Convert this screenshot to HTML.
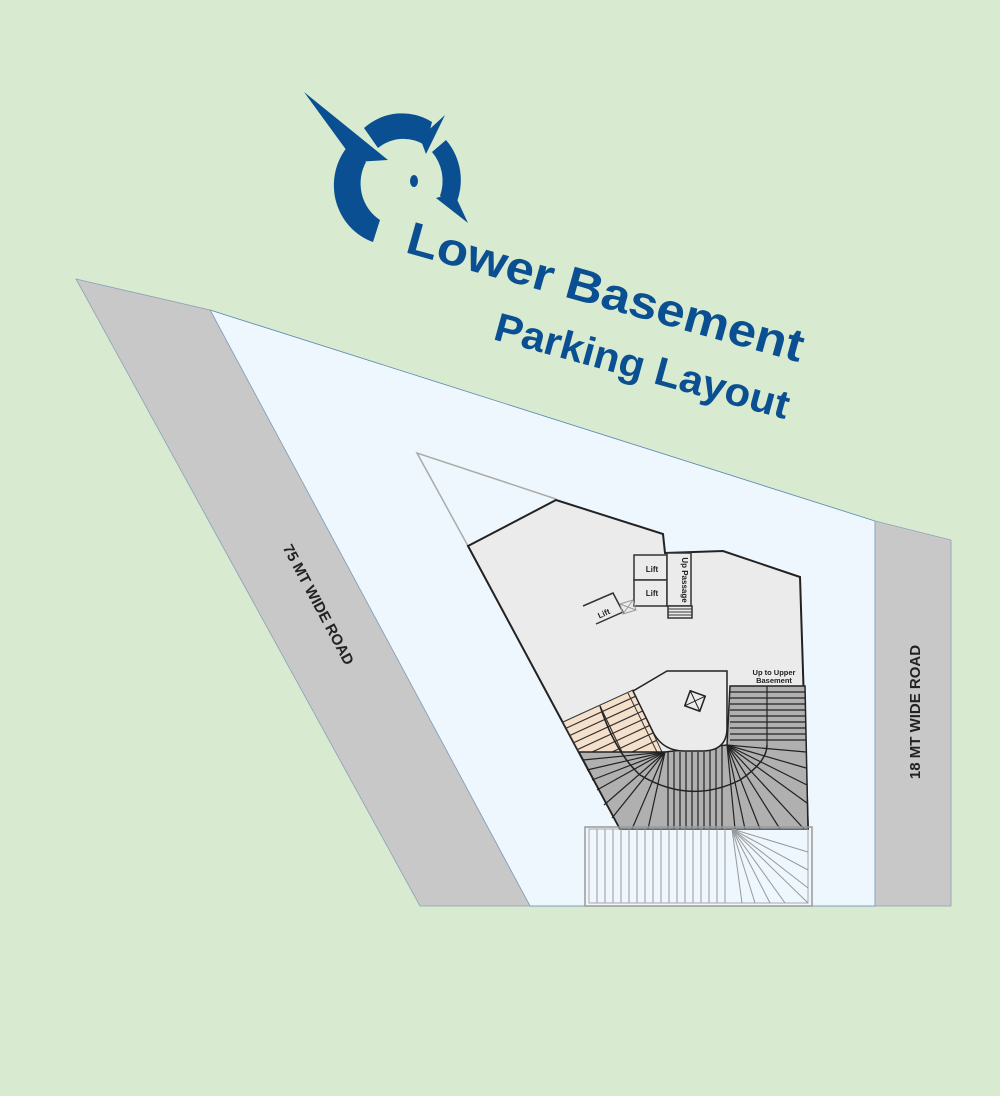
<!DOCTYPE html>
<html><head><meta charset="utf-8"><style>html,body{margin:0;padding:0;background:#d8ead0}svg{display:block}</style></head>
<body>
<svg width="1000" height="1096" viewBox="0 0 1000 1096" xmlns="http://www.w3.org/2000/svg" font-family="Liberation Sans, sans-serif">
<defs><clipPath id="bc"><polygon points="563,722 633,690 662,752 579,752"/></clipPath></defs>
<rect width="1000" height="1096" fill="#d8ead0"/>
<polygon points="210,310 875,521 875,906 530,906" fill="#eef7fd" stroke="#5a86b0" stroke-width="0.8"/>
<polygon points="76,279 210,310 530,906 420,906" fill="#c8c8c8" stroke="#8aa0b8" stroke-width="0.8"/>
<polygon points="875,521 951,540 951,906 875,906" fill="#c8c8c8" stroke="#8aa0b8" stroke-width="0.8"/>
<polyline points="556,499 417,453 468,546" fill="none" stroke="#aaa" stroke-width="1.5"/>
<polygon points="468,546 556,500 663,534 665,553 723,551 800,577 808,829 620,829" fill="#ebebeb" stroke="#222" stroke-width="2"/>
<polygon points="563,722 633,690 662,752 579,752" fill="#f5e1cb" stroke="#333" stroke-width="1"/>
<g stroke="#333" stroke-width="1.2" clip-path="url(#bc)">
<line x1="560" y1="731" x2="660" y2="685"/><line x1="560" y1="740" x2="660" y2="694"/><line x1="560" y1="749" x2="660" y2="703"/><line x1="570" y1="753" x2="670" y2="707"/><line x1="590" y1="753" x2="670" y2="716"/><line x1="610" y1="753" x2="670" y2="725"/><line x1="630" y1="753" x2="670" y2="734"/>
<line x1="600" y1="706" x2="622" y2="752"/>
</g>
<line x1="628" y1="693" x2="657" y2="752" stroke="#333" stroke-width="1"/>
<polygon points="579,752 665,752 727,745 730,686 805,686 808,829 620,829" fill="#b0b0b0" stroke="#222" stroke-width="1.5"/>
<g stroke="#222" stroke-width="1.2">
<line x1="730" y1="692" x2="805" y2="692"/><line x1="730" y1="698" x2="805" y2="698"/><line x1="730" y1="704" x2="805" y2="704"/><line x1="730" y1="710" x2="805" y2="710"/><line x1="730" y1="716" x2="806" y2="716"/><line x1="730" y1="722" x2="806" y2="722"/><line x1="730" y1="728" x2="806" y2="728"/><line x1="730" y1="734" x2="806" y2="734"/><line x1="730" y1="740" x2="806" y2="740"/>
<line x1="668" y1="752" x2="668" y2="829"/><line x1="674" y1="752" x2="674" y2="829"/><line x1="680" y1="752" x2="680" y2="829"/><line x1="686" y1="752" x2="686" y2="829"/><line x1="692" y1="752" x2="692" y2="829"/><line x1="698" y1="752" x2="698" y2="829"/><line x1="704" y1="752" x2="704" y2="829"/><line x1="710" y1="750" x2="710" y2="829"/><line x1="716" y1="748" x2="716" y2="829"/><line x1="722" y1="746" x2="722" y2="829"/>
<line x1="665" y1="752" x2="583" y2="760"/><line x1="665" y1="752" x2="587" y2="770"/><line x1="665" y1="752" x2="592" y2="780"/><line x1="665" y1="752" x2="597" y2="790"/><line x1="665" y1="752" x2="604" y2="805"/><line x1="665" y1="752" x2="612" y2="818"/><line x1="665" y1="752" x2="632" y2="829"/><line x1="665" y1="752" x2="648" y2="829"/>
<line x1="727" y1="745" x2="806" y2="752"/><line x1="727" y1="745" x2="806" y2="768"/><line x1="727" y1="745" x2="807" y2="785"/><line x1="727" y1="745" x2="807" y2="803"/><line x1="727" y1="745" x2="804" y2="829"/><line x1="727" y1="745" x2="780" y2="829"/><line x1="727" y1="745" x2="760" y2="829"/><line x1="727" y1="745" x2="745" y2="829"/><line x1="727" y1="745" x2="735" y2="829"/>
<line x1="767" y1="686" x2="767" y2="745"/>
</g>
<path d="M600,706 Q615,752 640,775 Q690,805 740,780 Q767,762 767,745" fill="none" stroke="#222" stroke-width="1.5"/>
<path d="M633,691 L667,671 L727,671 L727,728 Q727,751 702,751 L684,751 Q664,751 654,734 Z" fill="#ebebeb" stroke="#222" stroke-width="1.5"/>
<g transform="translate(695,701) rotate(20)"><rect x="-8" y="-8" width="16" height="16" fill="none" stroke="#222" stroke-width="1.5"/><line x1="-8" y1="-8" x2="8" y2="8" stroke="#222"/><line x1="8" y1="-8" x2="-8" y2="8" stroke="#222"/></g>
<text x="774" y="675" font-size="7.5" font-weight="bold" text-anchor="middle" fill="#222">Up to Upper</text>
<text x="774" y="683" font-size="7.5" font-weight="bold" text-anchor="middle" fill="#222">Basement</text>
<g stroke="#333" stroke-width="1.5" fill="#ebebeb">
<rect x="634" y="555" width="33" height="25"/><rect x="634" y="580" width="33" height="26"/>
<rect x="667" y="553" width="24" height="53"/>
<rect x="668" y="606" width="24" height="12"/>
</g>
<g stroke="#333" stroke-width="1"><line x1="668" y1="609" x2="692" y2="609"/><line x1="668" y1="612" x2="692" y2="612"/><line x1="668" y1="615" x2="692" y2="615"/></g>
<text x="652" y="572" font-size="8" font-weight="bold" text-anchor="middle" fill="#222">Lift</text>
<text x="652" y="596" font-size="8" font-weight="bold" text-anchor="middle" fill="#222">Lift</text>
<text transform="translate(682,580) rotate(90)" font-size="8" font-weight="bold" text-anchor="middle" fill="#222">Up Passage</text>
<path d="M583,606 L613,593 L623,612 L596,624" fill="none" stroke="#333" stroke-width="1.5"/>
<g stroke="#999" stroke-width="1" fill="none"><polygon points="620,604 633,600 636,610 623,614"/><line x1="620" y1="604" x2="636" y2="610"/><line x1="633" y1="600" x2="623" y2="614"/></g>
<text transform="translate(605,616) rotate(-25)" font-size="8" font-weight="bold" text-anchor="middle" fill="#222">Lift</text>
<rect x="585" y="827" width="227" height="79" fill="none" stroke="#999" stroke-width="1.5"/>
<rect x="589" y="829" width="219" height="74" fill="none" stroke="#aaa" stroke-width="1"/>
<g stroke="#999" stroke-width="1">
<line x1="597" y1="829" x2="597" y2="903"/><line x1="605" y1="829" x2="605" y2="903"/><line x1="613" y1="829" x2="613" y2="903"/><line x1="621" y1="829" x2="621" y2="903"/><line x1="629" y1="829" x2="629" y2="903"/><line x1="637" y1="829" x2="637" y2="903"/><line x1="645" y1="829" x2="645" y2="903"/><line x1="653" y1="829" x2="653" y2="903"/><line x1="661" y1="829" x2="661" y2="903"/><line x1="669" y1="829" x2="669" y2="903"/><line x1="677" y1="829" x2="677" y2="903"/><line x1="685" y1="829" x2="685" y2="903"/><line x1="693" y1="829" x2="693" y2="903"/><line x1="701" y1="829" x2="701" y2="903"/><line x1="709" y1="829" x2="709" y2="903"/><line x1="717" y1="829" x2="717" y2="903"/><line x1="725" y1="829" x2="725" y2="903"/>
<line x1="732" y1="829" x2="742" y2="903"/><line x1="732" y1="829" x2="755" y2="903"/><line x1="732" y1="829" x2="770" y2="903"/><line x1="732" y1="829" x2="785" y2="903"/><line x1="732" y1="829" x2="808" y2="903"/><line x1="732" y1="829" x2="808" y2="888"/><line x1="732" y1="829" x2="808" y2="870"/><line x1="732" y1="829" x2="808" y2="852"/>
</g>
<text transform="translate(314,607) rotate(62)" font-size="15" font-weight="bold" text-anchor="middle" fill="#222">75 MT WIDE ROAD</text>
<text transform="translate(920,712) rotate(-90)" font-size="15" font-weight="bold" text-anchor="middle" fill="#222">18 MT WIDE ROAD</text>
<g fill="#0a4f91">
<path d="M373,242 A58,60 0 0 1 348,146 L366,162 A41,43 0 0 0 380,220 Z"/>
<path d="M364,128 A58,60 0 0 1 432,122 L426,146 A41,43 0 0 0 378,148 Z"/>
<path d="M446,140 A58,60 0 0 1 456,204 L440,196 A41,43 0 0 0 432,152 Z"/>
<polygon points="304,92 388,160 355,162"/>
<polygon points="445,115 426,154 420,138"/>
<polygon points="468,223 436,198 454,193"/>
<ellipse cx="414" cy="181" rx="4" ry="6"/>
</g>
<text transform="translate(404,252) rotate(15.6)" font-size="46" font-weight="bold" fill="#0a4f91" textLength="410" lengthAdjust="spacingAndGlyphs">Lower Basement</text>
<text transform="translate(492,339) rotate(15.3)" font-size="40" font-weight="bold" fill="#0a4f91" textLength="304" lengthAdjust="spacingAndGlyphs">Parking Layout</text>
</svg>
</body></html>
